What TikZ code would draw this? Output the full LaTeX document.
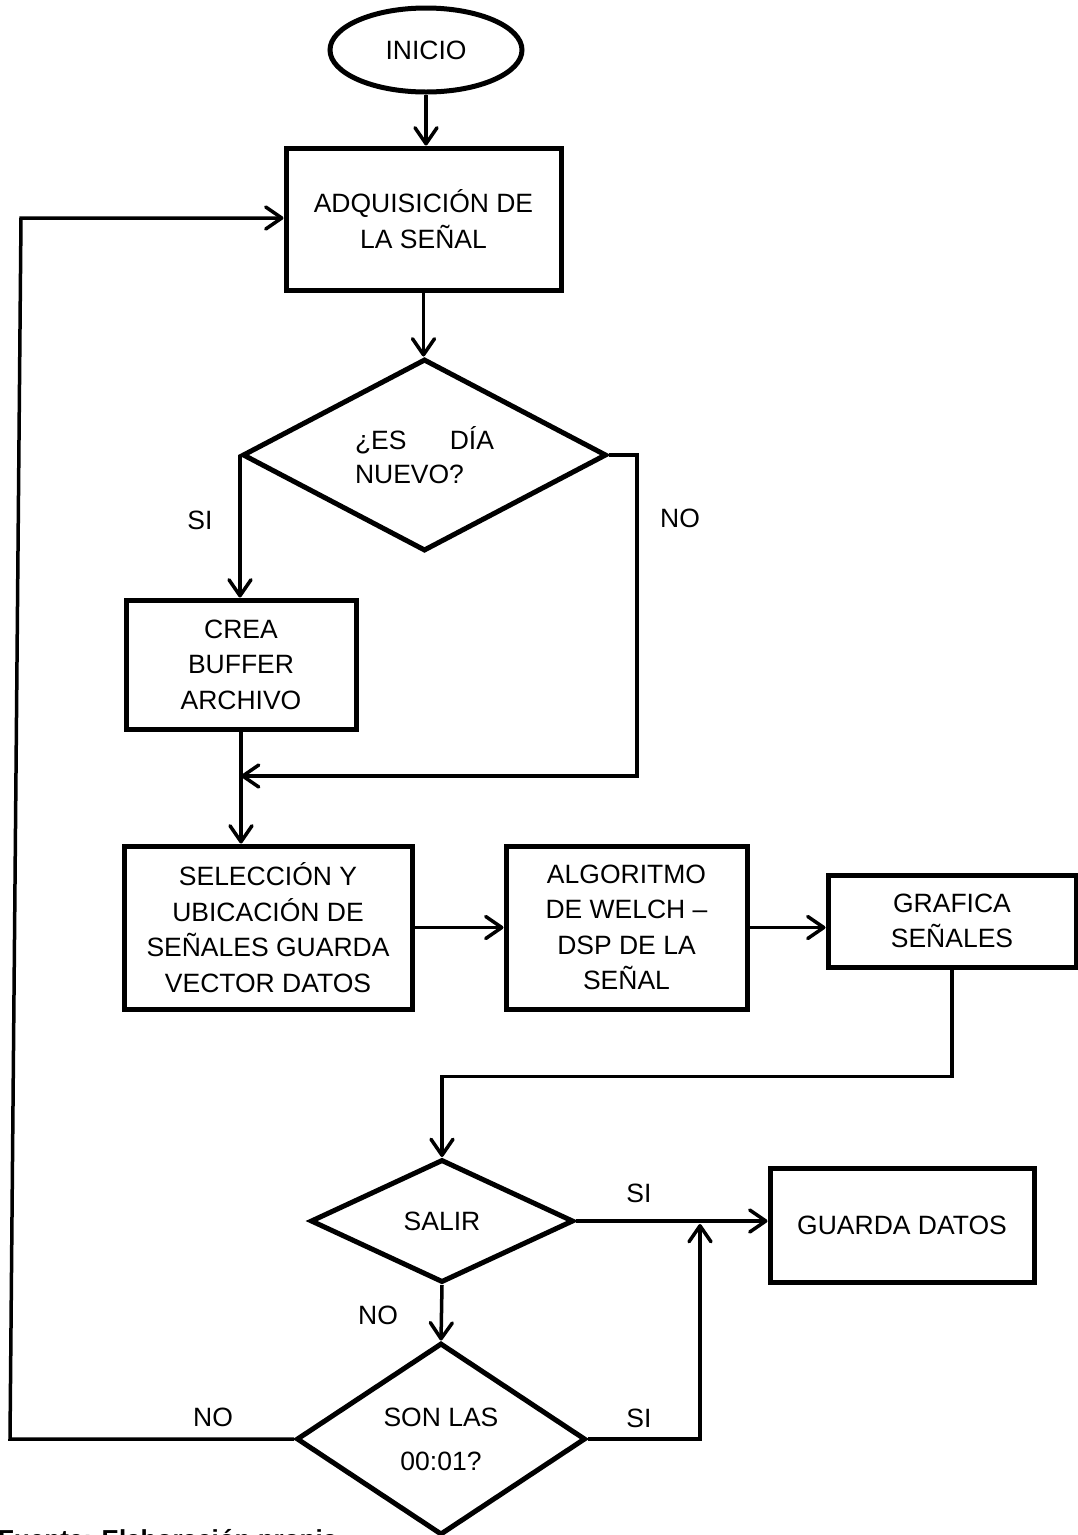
\documentclass[tikz,border=0pt]{standalone}
\usepackage{fontspec}
\setmainfont{Liberation Sans}
\usepackage{tikz}
\usetikzlibrary{arrows.meta,shapes.geometric}

\begin{document}
\begin{tikzpicture}[x=1pt,y=-1pt,>={Straight Barb[length=16pt,width=22pt,round]},
  every node/.style={font=\fontsize{26.5}{35.5}\selectfont,inner sep=0pt},
  proceso/.style={draw,line width=5pt,align=center},
  decision/.style={draw,diamond,line width=5pt,align=center},
  flecha/.style={->,line width=3.5pt}]
  \useasboundingbox (0,0) rectangle (1078,1535);
  \node[draw,ellipse,line width=5pt,minimum width=192pt,minimum height=84pt] (inicio) at (426,50) {INICIO};
  \node[proceso,minimum width=275pt,minimum height=142pt] (adquisicion) at (423.5,219) {ADQUISICIÓN DE\\LA SEÑAL};
  \node[decision,align=left,minimum width=364pt,minimum height=192pt,shape aspect=1.9] (dianuevo) at (424.5,455) {\makebox[139pt][s]{¿ES\hfill DÍA}\\[-1.5pt]NUEVO?};
  \node[proceso,minimum width=230pt,minimum height=129pt] (buffer) at (241,664.5) {CREA\\BUFFER\\ARCHIVO};
  \node[proceso,minimum width=288pt,minimum height=163pt] (seleccion) at (268,927.5) {SELECCIÓN Y\\UBICACIÓN DE\\SEÑALES GUARDA\\VECTOR DATOS};
  \node[proceso,minimum width=241pt,minimum height=163pt] (welch) at (626.5,927.5) {ALGORITMO\\DE WELCH –\\DSP DE LA\\SEÑAL};
  \node[proceso,minimum width=248pt,minimum height=92pt] (grafica) at (952,921) {GRAFICA\\SEÑALES};
  \node[decision,minimum width=263pt,minimum height=123pt,shape aspect=2.1] (salir) at (442,1221) {SALIR};
  \node[proceso,minimum width=264pt,minimum height=114pt] (guarda) at (902,1225) {GUARDA DATOS};
  \node[decision,minimum width=289pt,minimum height=192pt,shape aspect=1.5] (hora) at (441,1439) {SON LAS\\[8.5pt]00:01?};

  \coordinate (union) at (241,776);
  \coordinate (cruce) at (700,1224);
  \coordinate (retornoA) at (10,1439);
  \coordinate (retornoB) at (21,218);

  \draw[flecha] (inicio.south) -- (inicio.south |- adquisicion.north);
  \draw[flecha] (adquisicion.south) -- (adquisicion.south |- dianuevo.north);
  \draw[flecha] (dianuevo.west) -- (dianuevo.west |- buffer.north);
  \draw[flecha] (dianuevo.east) -- ++(28,0) |- (union);
  \draw[flecha] (buffer.south) -- (buffer.south |- seleccion.north);
  \draw[flecha] (seleccion) -- (welch);
  \draw[flecha] (welch.east) -- (welch.east -| grafica.west);
  \draw[flecha] (grafica.south) -- ++(0,107) -| (salir.north);
  \draw[flecha] (salir.east) -- (salir.east -| guarda.west);
  \draw[flecha] (salir.south) -- (hora.north);
  \draw[flecha] (hora.east) -| (cruce);
  \draw[flecha] (hora.west) -- (retornoA) -- (retornoB) -- (retornoB -| adquisicion.west);

  \node (siA) at (200,520) {SI};
  \node (noA) at (680,518) {NO};
  \node (siB) at (639,1193) {SI};
  \node (noB) at (378,1315) {NO};
  \node (siC) at (639,1418) {SI};
  \node (noC) at (213,1417) {NO};
  \node[anchor=base west,font=\bfseries\fontsize{26}{30}\selectfont] (fuente) at (-2,1548) {Fuente: Elaboración propia};
\end{tikzpicture}
\end{document}
